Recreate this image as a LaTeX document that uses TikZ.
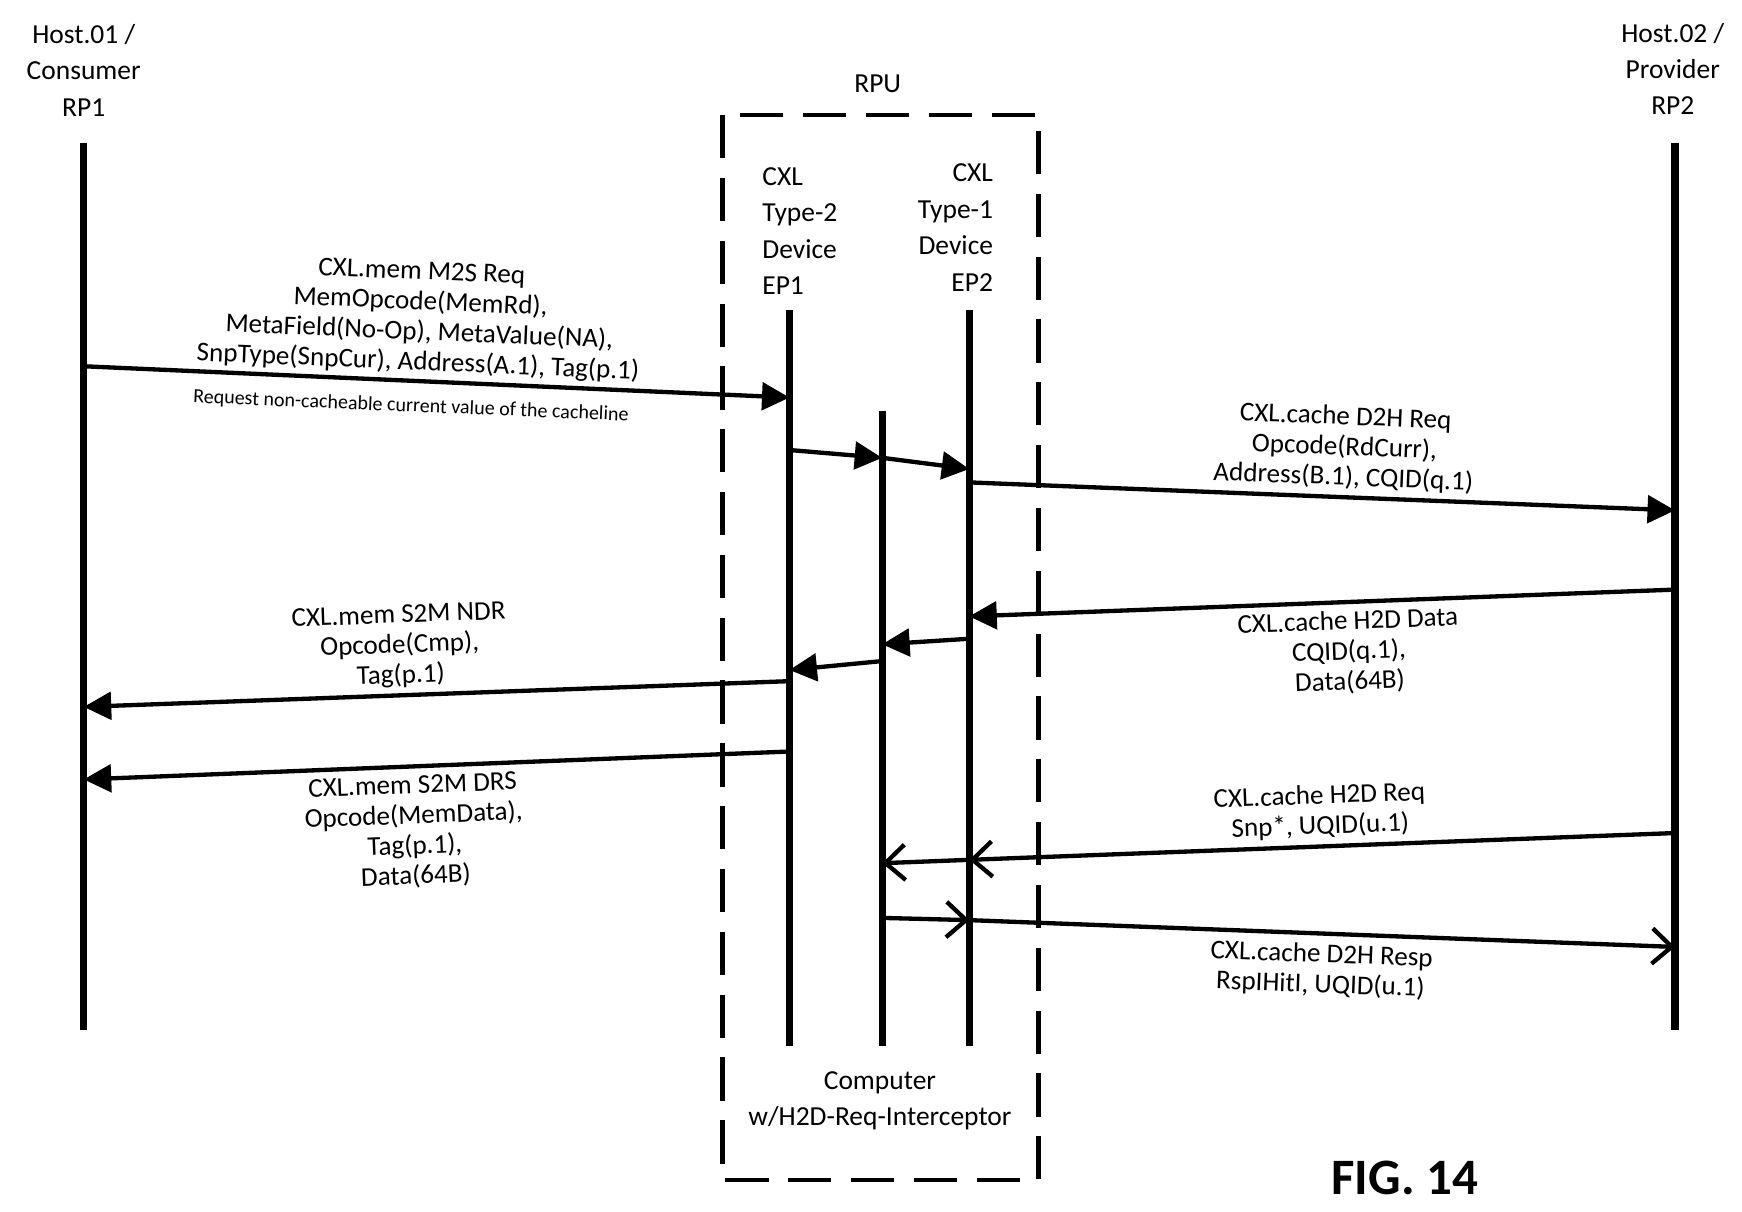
\documentclass[tikz,border=0pt]{standalone}
\usepackage{fontspec}
\setmainfont{Carlito}
\usetikzlibrary{arrows.meta}
\begin{document}
\begin{tikzpicture}[x=0.01cm,y=-0.01cm,
  life/.style={line width=1.8pt},
  msg/.style={line width=1.1pt,-{Triangle[length=7pt,width=7pt]}},
  omsg/.style={line width=1.1pt,-{Straight Barb[length=5pt,width=9pt,line width=1.1pt]}},
  lbl/.style={font=\fontsize{6.9}{7.7}\selectfont,align=center,inner sep=0pt},
  hd/.style={font=\fontsize{7}{9.2}\selectfont,align=center,inner sep=0pt}]
\useasboundingbox (0,0) rectangle (1560,1085);
% lifelines
\draw[life] (75,128) coordinate (h1t) -- (75,922) coordinate (h1b);
\draw[life] (1500,128) coordinate (h2t) -- (1500,922) coordinate (h2b);
\draw[life] (707,278) coordinate (e1t) -- (707,937) coordinate (e1b);
\draw[life] (790,368) coordinate (mt) -- (790,937) coordinate (mb);
\draw[life] (868,278) coordinate (e2t) -- (868,937) coordinate (e2b);
\draw[line width=1.1pt,dash pattern=on 11pt off 5pt] (647,103) rectangle (930,1057);
% headers
\node[hd] (h1) at (75,63) {Host.01 /\\Consumer\\RP1};
\node[hd] (h2) at (1498,62) {Host.02 /\\Provider\\RP2};
\node[hd] (rpu) at (786,75) {RPU};
\node[hd,align=left,anchor=west,font=\fontsize{7}{9.3}\selectfont] (ep1) at (682,207) {CXL\\Type-2\\Device\\EP1};
\node[hd,align=right,anchor=east,font=\fontsize{7}{9.3}\selectfont] (ep2) at (890,204) {CXL\\Type-1\\Device\\EP2};
\node[hd] (comp) at (788,986) {Computer\\w/H2D-Req-Interceptor};
\node[font=\fontsize{13}{13}\bfseries\selectfont,inner sep=0pt] (fig) at (1258,1055) {FIG. 14};
% coordinates
\coordinate (a1s) at (75,328); \coordinate (a1e) at (707,356);
\coordinate (a2s) at (707,403); \coordinate (a2m) at (790,410); \coordinate (a2e) at (868,420);
\coordinate (a3s) at (868,432); \coordinate (a3e) at (1500,457);
\coordinate (a4s) at (1500,528); \coordinate (a4e) at (868,552);
\coordinate (a5s) at (868,572); \coordinate (a5e) at (790,577);
\coordinate (a5s2) at (790,592); \coordinate (a5e2) at (707,600);
\coordinate (a6s) at (707,610); \coordinate (a6e) at (75,633);
\coordinate (a7s) at (707,673); \coordinate (a7e) at (75,698);
\coordinate (a8s) at (1500,746); \coordinate (a8m) at (868,770); \coordinate (a8e) at (790,773);
\coordinate (a9s) at (790,822); \coordinate (a9m) at (868,824); \coordinate (a9e) at (1500,848);
% messages
\draw[msg] (a1s) -- (a1e);
\draw[msg] (a2s) -- (a2m);
\draw[msg] (a2m) -- (a2e);
\draw[msg] (a3s) -- (a3e);
\draw[msg] (a4s) -- (a4e);
\draw[msg] (a5s) -- (a5e);
\draw[msg] (a5s2) -- (a5e2);
\draw[msg] (a6s) -- (a6e);
\draw[msg] (a7s) -- (a7e);
\draw[omsg] (a8s) -- (a8m);
\draw[omsg] (a8m) -- (a8e);
\draw[omsg] (a9s) -- (a9m);
\draw[omsg] (a9m) -- (a9e);
% labels
\node[lbl,rotate=-2.4] (l1) at (376,285) {CXL.mem M2S Req\\MemOpcode(MemRd),\\MetaField(No-Op), MetaValue(NA),\\SnpType(SnpCur), Address(A.1), Tag(p.1)};
\node[lbl,rotate=-2.4,font=\fontsize{5.1}{6}\selectfont] (l1b) at (368,364) {Request non-cacheable current value of the cacheline};
\node[lbl,rotate=-2.3] (l3) at (1204,401) {CXL.cache D2H Req\\Opcode(RdCurr),\\Address(B.1), CQID(q.1)};
\node[lbl,rotate=2.1] (l4) at (1208,584) {CXL.cache H2D Data\\CQID(q.1),\\Data(64B)};
\node[lbl,rotate=2.1] (l6) at (358,579) {CXL.mem S2M NDR\\Opcode(Cmp),\\Tag(p.1)};
\node[lbl,rotate=2.2] (l7) at (371,745) {CXL.mem S2M DRS\\Opcode(MemData),\\Tag(p.1),\\Data(64B)};
\node[lbl,rotate=2.1] (l8) at (1182,727) {CXL.cache H2D Req\\Snp*, UQID(u.1)};
\node[lbl,rotate=-2.1] (l9) at (1183,869) {CXL.cache D2H Resp\\RspIHitI, UQID(u.1)};
\end{tikzpicture}
\end{document}
